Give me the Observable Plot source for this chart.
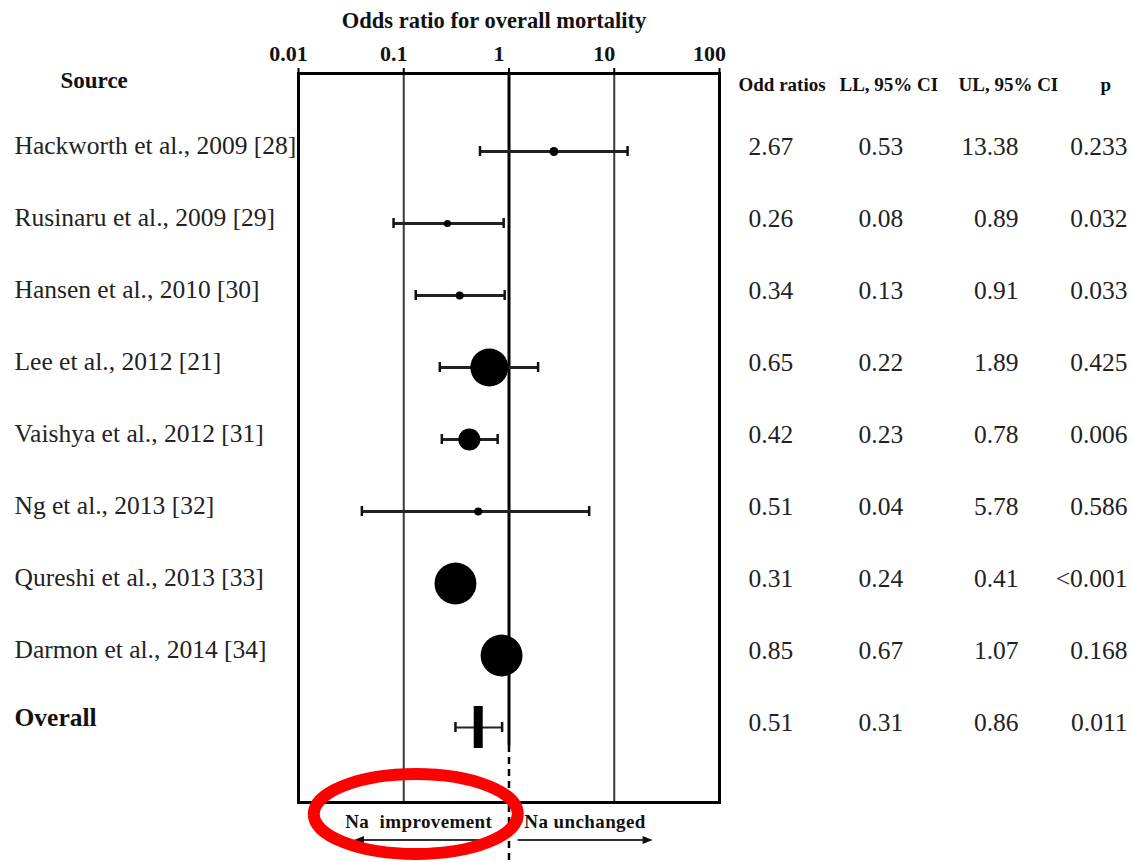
<!DOCTYPE html>
<html>
<head>
<meta charset="utf-8">
<script src="https://cdn.jsdelivr.net/npm/d3@7"></script>
<script src="https://cdn.jsdelivr.net/npm/@observablehq/plot@0.6"></script>
<style>
  body { margin: 0; background: #fff; }
  g[aria-label="title"] text { letter-spacing: 1.2px; }
</style>
</head>
<body>
<div id="chart"></div>
<script>
// ---- Data ----
const sources = [
  "Hackworth et al., 2009 [28]",
  "Rusinaru et al., 2009 [29]",
  "Hansen et al., 2010 [30]",
  "Lee et al., 2012 [21]",
  "Vaishya et al., 2012 [31]",
  "Ng et al., 2013 [32]",
  "Qureshi et al., 2013 [33]",
  "Darmon et al., 2014 [34]",
  "Overall"
];
const oddsRatios = [2.67, 0.26, 0.34, 0.65, 0.42, 0.51, 0.31, 0.85, 0.51];
const lowerCI    = [0.53, 0.08, 0.13, 0.22, 0.23, 0.04, 0.24, 0.67, 0.31];
const upperCI    = [13.38, 0.89, 0.91, 1.89, 0.78, 5.78, 0.41, 1.07, 0.86];
const pValues    = ["0.233", "0.032", "0.033", "0.425", "0.006", "0.586", "<0.001", "0.168", "0.011"];
// relative study weights, overall has none
const weights    = [1.4, 0.9, 1.1, 25.3, 8.5, 1.1, 30.9, 30.9, null];
const xTicks = [0.01, 0.1, 1, 10, 100];
const columnHeaders = ["Odd ratios", "LL, 95% CI", "UL, 95% CI", "p"];
const chartTitle = "Odds ratio for overall mortality";
const sourceHeader = "Source";
const directionLabels = [
  {label: "Na  improvement", from: 0.58, to: 0.034, circled: true},
  {label: "Na unchanged", from: 1.22, to: 23.4, circled: false}
];

// ---- Table built from the arrays ----
const rows = sources.map((s, i) => ({
  source: s, or: oddsRatios[i], ll: lowerCI[i], ul: upperCI[i], p: pValues[i],
  weight: weights[i], overall: s === "Overall"
}));
const studies = rows.filter(d => !d.overall);
const overall = rows.filter(d => d.overall);

const serif = "Liberation Serif, Times New Roman, serif";
const headerDx = [19, 120, 239, 381];

function directionMark(index, scales, values, dims) {
  const x = scales.x;
  const yb = dims.height - dims.marginBottom;
  const g = d3.create("svg:g").attr("aria-label", "direction labels");
  for (const d of directionLabels) {
    const x1 = x(d.from), x2 = x(d.to);
    const dir = Math.sign(x2 - x1);
    const ya = yb + 38;
    g.append("line").attr("x1", x1).attr("x2", x2 - dir * 6).attr("y1", ya).attr("y2", ya)
      .attr("stroke", "#333").attr("stroke-width", 2);
    g.append("path")
      .attr("d", `M${x2},${ya}L${x2 - dir * 10},${ya - 4}L${x2 - dir * 10},${ya + 4}Z`)
      .attr("fill", "#111");
    const xm = x(Math.sqrt(d.from * d.to));
    g.append("text").attr("x", xm).attr("y", yb + 26)
      .attr("text-anchor", "middle").attr("font-family", serif)
      .attr("font-weight", "bold").attr("font-size", 19).attr("letter-spacing", "0.4px")
      .attr("fill", "#111").text(d.label);
    if (d.circled) {
      g.append("ellipse").attr("cx", xm - 3).attr("cy", yb + 12)
        .attr("rx", 102).attr("ry", 40)
        .attr("fill", "none").attr("stroke", "#ff0000").attr("stroke-width", 12);
    }
  }
  return g.node();
}

const chart = Plot.plot({
  width: 1132,
  height: 862,
  marginLeft: 298,
  marginRight: 413,
  marginTop: 73,
  marginBottom: 60,
  style: {fontFamily: serif, background: "#fff", color: "#111"},
  x: {type: "log", domain: [0.01, 100], axis: null},
  y: {type: "point", domain: sources, range: [147.5, 731], padding: 0, axis: null},
  r: {type: "sqrt", domain: [0, 31], range: [0, 21]},
  marks: [
    // grid lines
    Plot.ruleX([0.1, 10], {stroke: "#3a3a3a", strokeWidth: 2}),
    Plot.ruleX([1], {stroke: "#000", strokeWidth: 3, insetBottom: 57}),
    Plot.ruleX([1], {stroke: "#000", strokeWidth: 2.5, insetTop: 672, insetBottom: -60, strokeDasharray: "7,5"}),
    Plot.frame({stroke: "#000", strokeWidth: 3}),
    // top axis ticks and labels
    Plot.ruleX(xTicks, {stroke: "#000", strokeWidth: 2, insetTop: -5, insetBottom: 729}),
    Plot.axisX(xTicks, {anchor: "top", tickSize: 0, tickPadding: 13, dx: -10,
      tickFormat: d => String(d), fontSize: 22, fontWeight: "bold", fill: "#111", label: null}),
    Plot.text([chartTitle], {frameAnchor: "top", dx: -15, dy: -46, lineAnchor: "bottom",
      fontSize: 22.5, fontWeight: "bold", fill: "#111", ariaLabel: "title"}),
    // confidence intervals
    Plot.ruleY(rows, {y: "source", x1: "ll", x2: "ul", stroke: "#222", strokeWidth: d => d.overall ? 2 : 3}),
    Plot.ruleX(rows, {x: "ll", y1: "source", y2: "source", insetTop: -5, insetBottom: -5, stroke: "#111", strokeWidth: 2.5}),
    Plot.ruleX(rows, {x: "ul", y1: "source", y2: "source", insetTop: -5, insetBottom: -5, stroke: "#111", strokeWidth: 2.5}),
    // study estimates
    Plot.dot(studies, {x: "or", y: "source", r: "weight", fill: "#000"}),
    // overall estimate
    Plot.ruleX(overall, {x: "or", y1: "source", y2: "source", insetTop: -21, insetBottom: -21, stroke: "#000", strokeWidth: 9}),
    // left labels
    Plot.text([sourceHeader], {frameAnchor: "top-left", dx: -238, dy: 14, lineAnchor: "bottom", textAnchor: "start",
      fontSize: 23, fontWeight: "bold", fill: "#111"}),
    Plot.text(studies, {y: "source", text: "source", frameAnchor: "left", dx: -284, dy: 2, lineAnchor: "bottom",
      textAnchor: "start", fontSize: 25.5, fill: "#222"}),
    Plot.text(overall, {y: "source", text: "source", frameAnchor: "left", dx: -284, dy: -2, lineAnchor: "bottom",
      textAnchor: "start", fontSize: 25.5, fontWeight: "bold", fill: "#111"}),
    // right table
    ...columnHeaders.map((h, i) => Plot.text([h], {frameAnchor: "top-right", dx: headerDx[i], dy: 17,
      lineAnchor: "bottom", textAnchor: "start", fontSize: 19, fontWeight: "bold", fill: "#111"})),
    Plot.text(rows, {y: "source", text: d => d.or.toFixed(2), frameAnchor: "right", dx: 29, dy: 3,
      lineAnchor: "bottom", textAnchor: "start", fontSize: 25.5, fill: "#222"}),
    Plot.text(rows, {y: "source", text: d => d.ll.toFixed(2), frameAnchor: "right", dx: 139, dy: 3,
      lineAnchor: "bottom", textAnchor: "start", fontSize: 25.5, fill: "#222"}),
    Plot.text(rows, {y: "source", text: d => d.ul.toFixed(2), frameAnchor: "right", dx: 299, dy: 3,
      lineAnchor: "bottom", textAnchor: "end", fontSize: 25.5, fill: "#222"}),
    Plot.text(rows, {y: "source", text: "p", frameAnchor: "right", dx: 408, dy: 3,
      lineAnchor: "bottom", textAnchor: "end", fontSize: 25.5, fill: "#222"}),
    // direction annotation
    directionMark
  ]
});
document.getElementById("chart").appendChild(chart);
</script>
</body>
</html>
